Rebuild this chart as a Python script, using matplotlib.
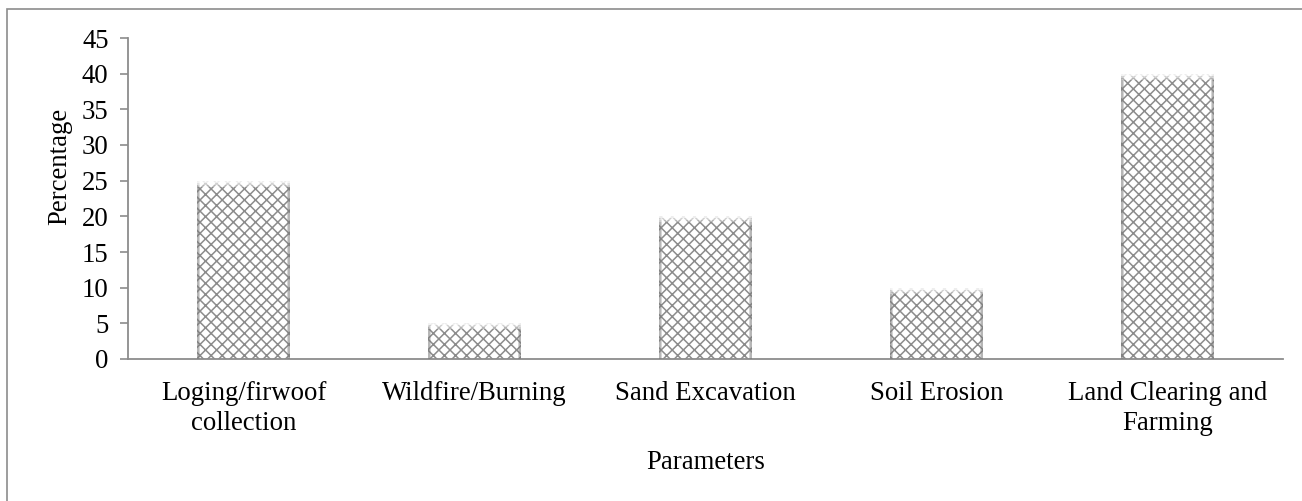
import matplotlib
matplotlib.use("Agg")
import matplotlib.pyplot as plt
from matplotlib.patches import Rectangle
import numpy as np

categories = ["Loging/firwoof\ncollection", "Wildfire/Burning", "Sand Excavation",
              "Soil Erosion", "Land Clearing and\nFarming"]
values = [25, 5, 20, 10, 40]
yticks = [0, 5, 10, 15, 20, 25, 30, 35, 40, 45]

plt.rcParams['font.family'] = ['Liberation Serif', 'DejaVu Serif']
plt.rcParams['hatch.linewidth'] = 1.1
plt.rcParams['hatch.color'] = '#8c8c8c'

FS = 19.3
fig = plt.figure(figsize=(13.02, 5.01), dpi=100)
ax = fig.add_axes([128/1302, 1 - 359/501, (1283 - 128)/1302, (359 - 38)/501])

x = np.arange(len(categories))
bars = ax.bar(x, values, width=0.4, color='white', edgecolor='#8c8c8c',
              hatch='xxx', linewidth=0.0, zorder=2)
# soft side shading and top highlight on each bar
for b in bars:
    bx, bw, bh = b.get_x(), b.get_width(), b.get_height()
    for i, a in enumerate([0.55, 0.3]):
        ax.add_patch(Rectangle((bx + i * bw * 0.015, 0), bw * 0.015, bh,
                               color='#7a7a7a', alpha=a, lw=0, zorder=3))
        ax.add_patch(Rectangle((bx + bw - (i + 1) * bw * 0.015, 0), bw * 0.015, bh,
                               color='#7a7a7a', alpha=a, lw=0, zorder=3))
    for i, a in enumerate([0.85, 0.6, 0.35]):
        ax.add_patch(Rectangle((bx, bh - (i + 1) * 0.28), bw, 0.28, color='white',
                               alpha=a, lw=0, zorder=3))

ax.set_xlim(-0.5, len(categories) - 0.5)
ax.set_ylim(0, 45)
ax.set_yticks(yticks)
ax.set_xticks(x)
ax.set_xticklabels(categories, fontsize=FS, linespacing=1.25)
ax.tick_params(axis='y', labelsize=FS, length=6, width=1.2, color='#8c8c8c',
               direction='out', pad=8)
ax.tick_params(axis='x', length=0, pad=16)
for s in ['top', 'right']:
    ax.spines[s].set_visible(False)
for s in ['left', 'bottom']:
    ax.spines[s].set_color('#8c8c8c')
    ax.spines[s].set_linewidth(1.3)

ax.set_ylabel('Percentage', fontsize=FS)
ax.yaxis.set_label_coords(-0.048, 0.6)
ax.set_xlabel('Parameters', fontsize=FS, labelpad=10)

# chart frame
fig.patches.append(Rectangle((7/1302, -0.1), 1.2, 1 - 9/501 + 0.1,
                             transform=fig.transFigure, fill=False,
                             edgecolor='#8c8c8c', linewidth=1.2))

fig.savefig('out.png', dpi=100)
